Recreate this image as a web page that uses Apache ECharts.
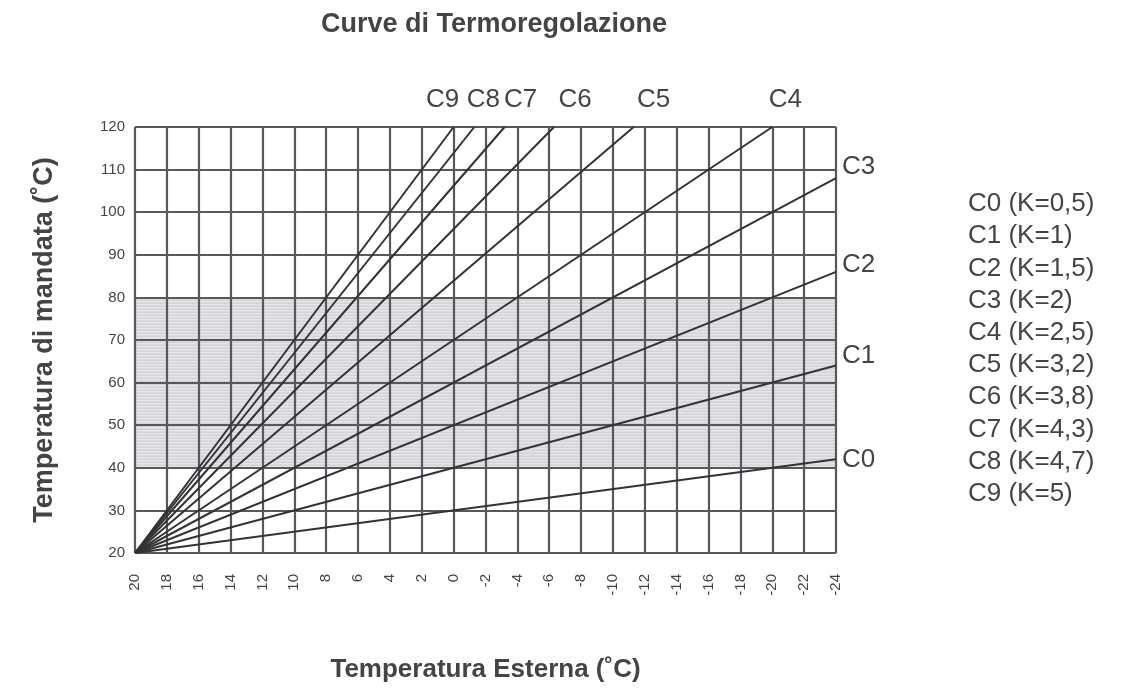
<!DOCTYPE html>
<html>
<head>
<meta charset="utf-8">
<script src="https://cdn.jsdelivr.net/npm/echarts@6/dist/echarts.min.js"></script>
<style>
html,body{margin:0;padding:0;background:#fff;}
#chart{width:1126px;height:691px;}
</style>
</head>
<body>
<div id="chart"></div>
<script>
// ---- Data ----
const curveNames = ['C0','C1','C2','C3','C4','C5','C6','C7','C8','C9'];
const legendLines = ['C0 (K=0,5)','C1 (K=1)','C2 (K=1,5)','C3 (K=2)','C4 (K=2,5)','C5 (K=3,2)','C6 (K=3,8)','C7 (K=4,3)','C8 (K=4,7)','C9 (K=5)'];
const startX = 20;
const startY = 20;
const endX = [-24, -24, -24, -24, -20, -11.3, -6.3, -3.2, -1.3, 0];
const endY = [42, 64, 86, 108, 120, 120, 120, 120, 120, 120];
const xTicks = [20,18,16,14,12,10,8,6,4,2,0,-2,-4,-6,-8,-10,-12,-14,-16,-18,-20,-22,-24];
const yTicks = [20,30,40,50,60,70,80,90,100,110,120];
const bandRange = [40, 80];

// ---- Styles ----
const FONT = 'Liberation Sans, Arial, Helvetica, sans-serif';
const TXT = '#444446';
// end-label offsets (style only)
const labelStyle = {
  C0: {offset:[6,1], align:'left', verticalAlign:'middle'},
  C1: {offset:[6,-10], align:'left', verticalAlign:'middle'},
  C2: {offset:[6,-7], align:'left', verticalAlign:'middle'},
  C3: {offset:[6,-11], align:'left', verticalAlign:'middle'},
  C4: {offset:[13,-14], align:'center', verticalAlign:'bottom'},
  C5: {offset:[20,-14], align:'center', verticalAlign:'bottom'},
  C6: {offset:[21,-14], align:'center', verticalAlign:'bottom'},
  C7: {offset:[16,-14], align:'center', verticalAlign:'bottom'},
  C8: {offset:[9,-14], align:'center', verticalAlign:'bottom'},
  C9: {offset:[-11,-14], align:'center', verticalAlign:'bottom'}
};

// striped pattern for the band
const pc = document.createElement('canvas');
pc.width = 4; pc.height = 3;
const pctx = pc.getContext('2d');
pctx.fillStyle = '#d4d4d8'; pctx.fillRect(0,0,4,1);
pctx.fillStyle = '#e6e6ea'; pctx.fillRect(0,1,4,1);
pctx.fillStyle = '#dcdce0'; pctx.fillRect(0,2,4,1);

const chart = echarts.init(document.getElementById('chart'), null, {renderer:'canvas'});

const series = curveNames.map((n, i) => {
  const ls = labelStyle[n];
  return {
    name: n,
    type: 'line',
    symbol: 'none',
    zlevel: 2,
    lineStyle: {color:'#333336', width:2},
    data: [[startX, startY], [endX[i], endY[i]]],
    endLabel: {
      show: true,
      formatter: n,
      color: TXT,
      fontFamily: FONT,
      fontSize: 26,
      distance: 0,
      offset: ls.offset,
      align: ls.align,
      verticalAlign: ls.verticalAlign
    },
    animation: false
  };
});

series.push({
  type: 'line',
  name: 'band',
  data: [],
  zlevel: 0,
  silent: true,
  markArea: {
    silent: true,
    itemStyle: {color: {image: pc, repeat: 'repeat'}},
    data: [[{yAxis: bandRange[0]}, {yAxis: bandRange[1]}]]
  }
});

const gridLine = {show:true, lineStyle:{color:'#58585c', width:2.2}};
const nameStyle = {fontFamily: FONT, fontSize: 26, fontWeight: 'bold', color: TXT};

chart.setOption({
  animation: false,
  backgroundColor: '#ffffff',
  title: {
    text: 'Curve di Termoregolazione',
    left: 489, top: 6, textAlign: 'center',
    textStyle: {fontFamily: FONT, fontSize: 27, fontWeight: 'bold', color: TXT}
  },
  grid: {left: 135, right: 290, top: 127, bottom: 138, containLabel: false},
  xAxis: {
    type: 'value',
    inverse: true,
    zlevel: 1,
    min: -24, max: 20, interval: 2,
    name: 'Temperatura Esterna (˚C)',
    nameLocation: 'middle',
    nameGap: 104,
    nameTextStyle: nameStyle,
    axisLine: {show:false},
    axisTick: {show:false},
    axisLabel: {rotate: 90, margin: 21, fontFamily: FONT, fontSize: 15, color: TXT,
      formatter: v => xTicks.indexOf(v) >= 0 ? String(v) : ''},
    splitLine: gridLine
  },
  yAxis: {
    type: 'value',
    zlevel: 1,
    min: 20, max: 120, interval: 10,
    name: 'Temperatura di mandata (˚C)',
    nameLocation: 'middle',
    nameGap: 77,
    nameTextStyle: {fontFamily: FONT, fontSize: 27, fontWeight: 'bold', color: TXT},
    axisLine: {show:false},
    axisTick: {show:false},
    axisLabel: {margin: 10, fontFamily: FONT, fontSize: 15, color: TXT,
      formatter: v => yTicks.indexOf(v) >= 0 ? String(v) : ''},
    splitLine: gridLine
  },
  graphic: [{
    type: 'text',
    left: 968, top: 188,
    style: {
      text: legendLines.join('\n'),
      fontFamily: FONT, fontSize: 26, lineHeight: 32.2,
      fill: TXT
    }
  }],
  series: series
});
</script>
</body>
</html>
